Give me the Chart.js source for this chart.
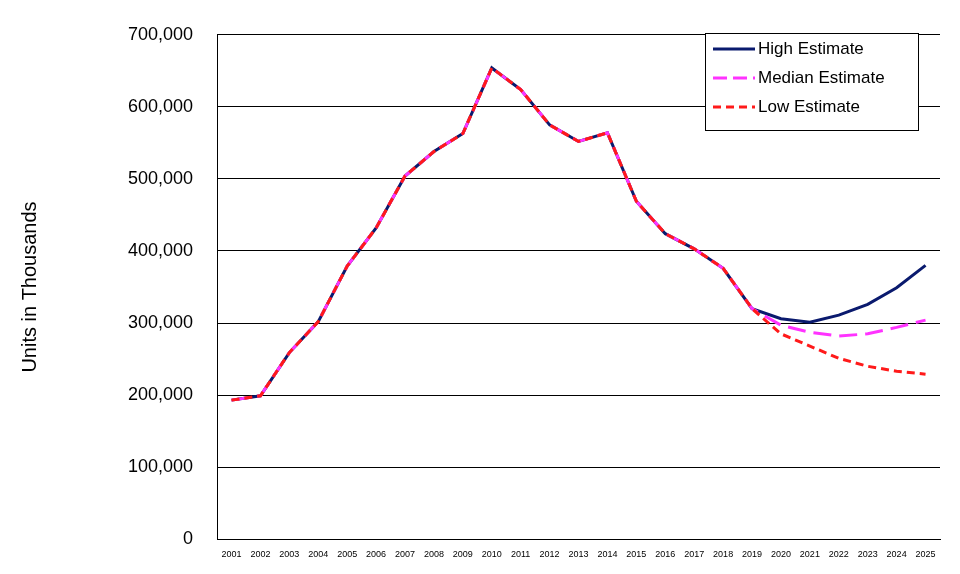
<!DOCTYPE html>
<html><head><meta charset="utf-8">
<script src="https://cdn.jsdelivr.net/npm/chart.js@4/dist/chart.umd.min.js"></script>
<style>html,body{margin:0;background:#fff}#w{width:960px;height:574px}</style>
</head><body><div id="w"><canvas id="c"></canvas></div>
<script>
const years=["2001","2002","2003","2004","2005","2006","2007","2008","2009","2010","2011","2012","2013","2014","2015","2016","2017","2018","2019","2020","2021","2022","2023","2024","2025"];
const history=[193000,199000,259000,302000,379000,432000,504000,538000,563000,654000,624000,575000,552000,564000,469000,424000,403000,376000,320000];
const highProj=[306000,301000,311000,326000,349000,380000];
const medianProj=[297000,287000,282000,285000,294000,304000];
const lowProj=[285000,268000,251000,240000,233000,229000];
const seriesNames=["High Estimate","Median Estimate","Low Estimate"];
const high=history.concat(highProj), median=history.concat(medianProj), low=history.concat(lowProj);
const styles=[{c:"#0a1a6e",d:[]},{c:"#ff33ff",d:[18,8]},{c:"#ff1a1a",d:[8,5]}];
const legendPlugin={id:"lg",afterDraw(ch){const x=ch.ctx;x.save();x.fillStyle="#fff";x.fillRect(705,33,213,97);x.strokeStyle="#000";x.lineWidth=1;x.strokeRect(705.5,33.5,213,97);
seriesNames.forEach((n,i)=>{const y=49+i*29;x.strokeStyle=styles[i].c;x.lineWidth=3;x.setLineDash(i==0?[]:(i==1?[14,6]:[8,5]));x.beginPath();x.moveTo(713,y);x.lineTo(755,y);x.stroke();x.setLineDash([]);x.fillStyle="#000";x.font="17px Arial, 'Liberation Sans', sans-serif";x.textBaseline="middle";x.fillText(n,758,y);});x.restore();}};
new Chart(document.getElementById("c"),{type:"line",data:{labels:years,datasets:[
{label:seriesNames[0],data:high,order:2,borderColor:styles[0].c,borderWidth:3,pointRadius:0,tension:0},
{label:seriesNames[1],data:median,order:1,borderColor:styles[1].c,borderDash:styles[1].d,borderWidth:3,pointRadius:0,tension:0},
{label:seriesNames[2],data:low,order:0,borderColor:styles[2].c,borderDash:styles[2].d,borderWidth:3,pointRadius:0,tension:0}]},
options:{responsive:true,maintainAspectRatio:false,animation:false,layout:{padding:{left:18,right:20,top:21,bottom:2}},
plugins:{legend:{display:false},tooltip:{enabled:false}},
scales:{x:{offset:true,grid:{display:false},border:{color:"#000"},ticks:{color:"#000",padding:2,font:{size:9,family:"Arial, 'Liberation Sans'"},maxRotation:0,autoSkip:false}},
y:{min:0,max:700000,ticks:{stepSize:100000,padding:24,color:"#000",font:{size:18,family:"Arial, 'Liberation Sans'"},callback:v=>v.toLocaleString("en-US")},grid:{color:"#000",drawTicks:false},border:{color:"#000"},
title:{display:true,text:"Units in Thousands",color:"#000",padding:{top:0,bottom:62},font:{size:20,family:"Arial, 'Liberation Sans'"}}}}},plugins:[legendPlugin]});
</script></body></html>
